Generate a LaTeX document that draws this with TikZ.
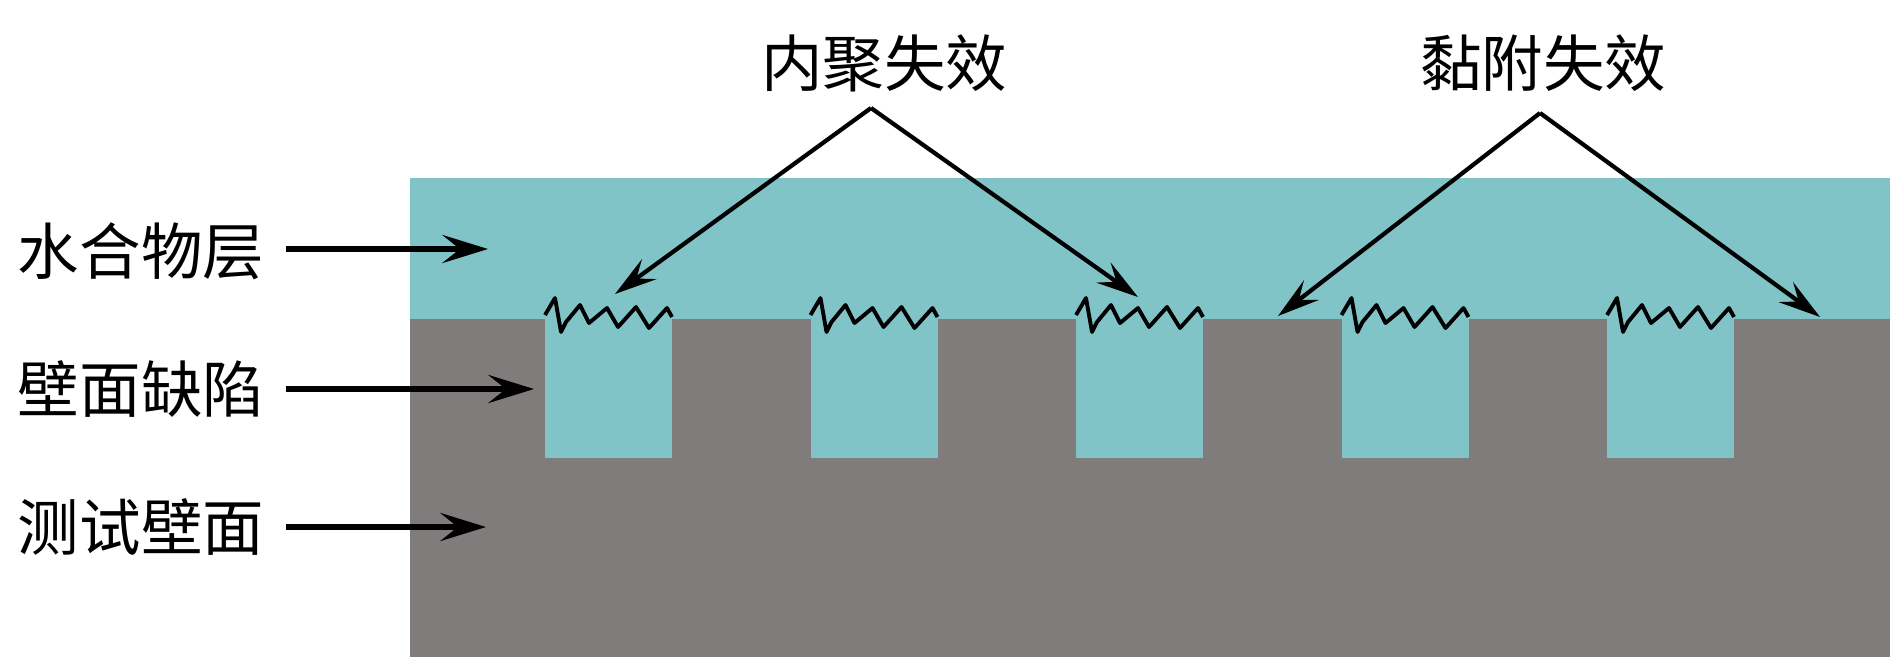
\documentclass[tikz,border=0pt]{standalone}
\usepackage{fontspec}
\setmainfont{Noto Sans CJK SC}
\usetikzlibrary{arrows.meta}
\definecolor{hydratecolor}{RGB}{129,196,200}
\definecolor{wallcolor}{RGB}{128,124,124}

\begin{document}
\begin{tikzpicture}[
    x=0.1mm, y=-0.1mm,
    label/.style={font=\fontsize{17.5}{20}\selectfont, inner sep=0pt, anchor=center},
    arrow/.style={-{Stealth[length=13pt, width=8pt, inset=5pt]}, line width=1.6pt},
    pointer/.style={-{Stealth[length=12pt, width=7pt, inset=4.5pt]}, line width=1.2pt},
    crack/.style={line width=1.1pt, line join=round}
]
\useasboundingbox (0,0) rectangle (1890,657);

% ===== LAYERS =====
\fill[hydratecolor] (410,178) rectangle (1890,319);
\fill[wallcolor] (410,319) rectangle (1890,657);

% ===== DEFECTS WITH CRACKS =====
\foreach \i in {0,...,4} {
    \begin{scope}[xshift={(545+265.5*\i)*0.1mm}]
        \fill[hydratecolor] (0,319) rectangle (127,458);
        \draw[crack] (0,315) -- (10,298) -- (16,332) -- (21,322) -- (35,305) -- (44,323)
            -- (62,308) -- (73,327) -- (91,307) -- (104,328) -- (122,308) -- (127,317);
    \end{scope}
}

% ===== LEFT LABELS =====
\node[label] (hydrate) at (141,251) {水合物层};
\node[label] (defect) at (141,389) {壁面缺陷};
\node[label] (wall) at (141,527) {测试壁面};

\coordinate (hydrate_start) at (286,249);
\coordinate (defect_start) at (286,389);
\coordinate (wall_start) at (286,527);
\coordinate (hydrate_end) at (488,249);
\coordinate (defect_end) at (534,389);
\coordinate (wall_end) at (486,527);

\draw[arrow] (hydrate_start) -- (hydrate_end);
\draw[arrow] (defect_start) -- (defect_end);
\draw[arrow] (wall_start) -- (wall_end);

% ===== FAILURE LABELS =====
\node[label] (cohesive) at (884,63) {内聚失效};
\node[label] (adhesive) at (1543,63) {黏附失效};

\coordinate (coh_apex) at (871,108);
\coordinate (adh_apex) at (1540,113);
\coordinate (coh_left) at (615,294);
\coordinate (coh_right) at (1138,297);
\coordinate (adh_left) at (1278,316);
\coordinate (adh_right) at (1820,317);

\draw[pointer] (coh_apex) -- (coh_left);
\draw[pointer] (coh_apex) -- (coh_right);
\draw[pointer] (adh_apex) -- (adh_left);
\draw[pointer] (adh_apex) -- (adh_right);

\end{tikzpicture}
\end{document}
